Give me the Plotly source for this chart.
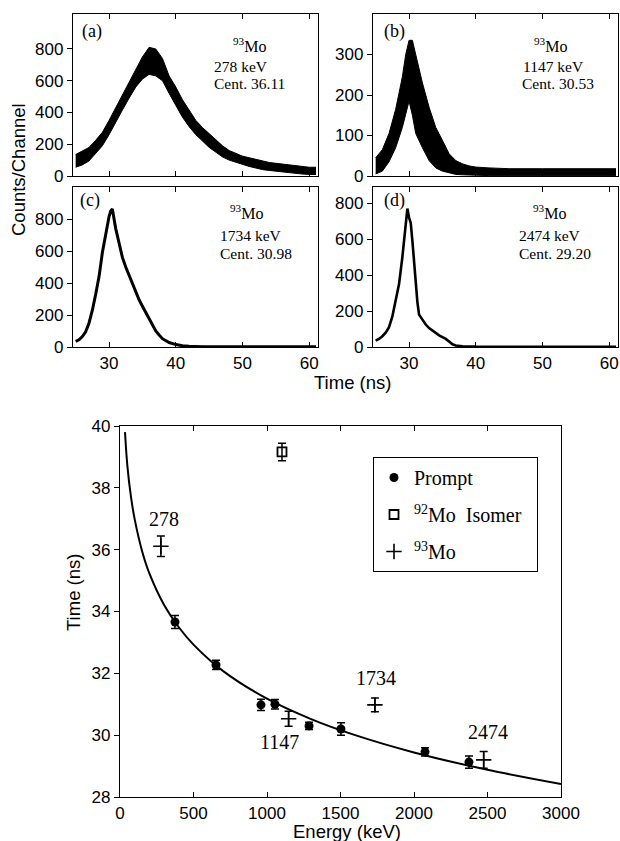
import plotly.graph_objects as go

# ---------------- data: time spectra (envelopes / traces) -------------
t_a = [25, 26, 27, 28, 29, 30, 31, 32, 33, 34, 35, 36, 37, 38, 39, 40, 41, 42, 43, 44,
       45, 46, 47, 48, 49, 50, 51, 52, 53, 54, 55, 56, 57, 58, 59, 60, 61]
a_lo = [55, 70, 95, 140, 190, 260, 340, 415, 490, 560, 610, 640, 630, 600, 520, 440, 370,
        310, 260, 220, 180, 150, 120, 100, 85, 70, 60, 50, 40, 35, 30, 25, 20, 15, 12, 10, 10]
a_hi = [135, 155, 180, 225, 275, 350, 430, 515, 600, 680, 750, 810, 800, 740, 630, 560, 480,
        415, 350, 305, 265, 225, 190, 160, 140, 125, 115, 105, 95, 85, 80, 75, 70, 65, 60, 55, 55]

t_b = [25, 26, 27, 28, 29, 29.5, 30, 30.5, 31, 32, 33, 34, 35, 36, 37, 38, 39, 40, 42, 45,
       50, 55, 61]
b_lo = [5, 12, 35, 70, 120, 150, 185, 150, 105, 70, 38, 20, 12, 8, 4, 3, 2, 2, 1, 1, 1, 1, 1]
b_hi = [45, 65, 105, 165, 245, 300, 335, 335, 300, 230, 170, 120, 88, 55, 38, 30, 25, 22, 20,
        18, 18, 18, 18]

t_c = [25, 25.5, 26, 26.5, 27, 27.5, 28, 28.5, 29, 29.5, 30, 30.25, 30.5, 30.75, 31, 31.5,
       32, 32.5, 33, 33.5, 34, 34.5, 35, 35.5, 36, 36.5, 37, 37.5, 38, 39, 40, 41, 42, 44,
       46, 50, 55, 61]
c_val = [35, 45, 65, 95, 150, 230, 330, 440, 590, 710, 815, 850, 862, 800, 740, 650, 560,
         500, 450, 390, 340, 295, 255, 215, 175, 135, 100, 75, 52, 28, 15, 8, 4, 2, 1, 1, 1, 1]

t_d = [25, 25.5, 26, 26.5, 27, 27.5, 28, 28.5, 29, 29.25, 29.5, 29.75, 30, 30.25, 30.5,
       30.75, 31, 31.25, 31.5, 32, 32.5, 33, 33.5, 34, 34.5, 35, 35.5, 36, 36.5, 37, 38, 40,
       45, 50, 55, 61]
d_val = [35, 45, 60, 80, 110, 170, 260, 350, 500, 600, 690, 770, 720, 690, 590, 460, 370,
         250, 180, 150, 125, 105, 90, 80, 65, 55, 45, 30, 15, 8, 4, 2, 1, 1, 1, 1]

panel_tags = ["(a)", "(b)", "(c)", "(d)"]
panel_energy = ["278 keV", "1147 keV", "1734 keV", "2474 keV"]
panel_cent = ["Cent. 36.11", "Cent. 30.53", "Cent. 30.98", "Cent. 29.20"]

# ---------------- data: time vs energy -------------
prompt_E = [374, 653, 959, 1054, 1286, 1503, 2075, 2374]
prompt_T = [33.66, 32.27, 30.98, 31.00, 30.30, 30.20, 29.46, 29.13]
prompt_err = [0.21, 0.15, 0.18, 0.15, 0.12, 0.20, 0.13, 0.20]

iso_E = [1102]
iso_T = [39.16]
iso_err = [0.28]

mo93_E = [278, 1147, 1734, 2474]
mo93_T = [36.11, 30.53, 30.98, 29.20]
mo93_err = [0.33, 0.24, 0.22, 0.27]
mo93_lbl = ["278", "1147", "1734", "2474"]
lbl_E = [299, 1088, 1741, 2503]
lbl_T = [36.99, 29.78, 31.85, 30.10]

fit_E = [34, 50, 75, 100, 150, 200, 300, 400, 500, 700, 1000, 1300, 1600, 2000, 2500, 3000]
fit_T = [39.80, 38.72, 37.70, 36.98, 35.96, 35.23, 34.21, 33.49, 32.93, 32.08, 31.18,
         30.52, 30.00, 29.44, 28.88, 28.42]

# ---------------- figure -------------
W, H = 620, 841
def px(x):
    return x / W
def py(y):
    return 1 - y / H

SANS = "Liberation Sans, Arial, Helvetica, sans-serif"
SERIF = "Liberation Serif, Times New Roman, serif"

fig = go.Figure()

fig.add_trace(go.Scatter(x=t_a, y=a_lo, mode="lines", line=dict(color="black", width=1),
                         xaxis="x", yaxis="y", showlegend=False, hoverinfo="skip"))
fig.add_trace(go.Scatter(x=t_a, y=a_hi, mode="lines", line=dict(color="black", width=1),
                         fill="tonexty", fillcolor="black",
                         xaxis="x", yaxis="y", showlegend=False, hoverinfo="skip"))
fig.add_trace(go.Scatter(x=t_b, y=b_lo, mode="lines", line=dict(color="black", width=1),
                         xaxis="x2", yaxis="y2", showlegend=False, hoverinfo="skip"))
fig.add_trace(go.Scatter(x=t_b, y=b_hi, mode="lines", line=dict(color="black", width=1),
                         fill="tonexty", fillcolor="black",
                         xaxis="x2", yaxis="y2", showlegend=False, hoverinfo="skip"))
fig.add_trace(go.Scatter(x=t_c, y=c_val, mode="lines", line=dict(color="black", width=3),
                         xaxis="x3", yaxis="y3", showlegend=False, hoverinfo="skip"))
fig.add_trace(go.Scatter(x=t_d, y=d_val, mode="lines", line=dict(color="black", width=2.6),
                         xaxis="x4", yaxis="y4", showlegend=False, hoverinfo="skip"))

fig.add_trace(go.Scatter(x=fit_E, y=fit_T, mode="lines", line=dict(color="black", width=2, shape="spline"),
                         xaxis="x5", yaxis="y5", showlegend=False, hoverinfo="skip"))
fig.add_trace(go.Scatter(x=prompt_E, y=prompt_T, mode="markers", name="Prompt",
                         marker=dict(symbol="circle", size=9, color="black"),
                         error_y=dict(type="data", array=prompt_err, thickness=1.5, width=4, color="black"),
                         xaxis="x5", yaxis="y5", legendgroup="g1"))
fig.add_trace(go.Scatter(x=iso_E, y=iso_T, mode="markers", name="<sup>92</sup>Mo\u00a0\u00a0Isomer\u00a0\u00a0",
                         marker=dict(symbol="square-open", size=9, color="black", line=dict(width=1.8)),
                         error_y=dict(type="data", array=iso_err, thickness=1.5, width=4, color="black"),
                         xaxis="x5", yaxis="y5", legendgroup="g2"))
fig.add_trace(go.Scatter(x=mo93_E, y=mo93_T, mode="markers", name="<sup>93</sup>Mo",
                         marker=dict(symbol="cross-thin", size=11, color="black", line=dict(width=1.6, color="black")),
                         error_y=dict(type="data", array=mo93_err, thickness=1.5, width=4, color="black"),
                         xaxis="x5", yaxis="y5", legendgroup="g3"))

tickfont = dict(family=SANS, size=17, color="black")
common_ax = dict(showline=True, linecolor="black", linewidth=1.3, showgrid=False, zeroline=False,
                 tickcolor="black", tickwidth=1.2, ticklen=5, tickfont=tickfont, automargin=False)

top_xr = [24.6, 61.3]
dom_ax = [px(73), px(318)]
dom_bx = [px(373), px(618)]
dom_ty = [py(176), py(14)]
dom_by = [py(347), py(187)]

def xax(domain, anchor, labels):
    return dict(domain=domain, anchor=anchor, range=top_xr, tickvals=[30, 40, 50, 60],
                ticks="inside", mirror="ticks", showticklabels=labels,
                ticklabeloverflow="allow", **common_ax)

def yax(domain, anchor, rng, tv):
    return dict(domain=domain, anchor=anchor, range=rng, tickvals=tv,
                ticks="outside", mirror=True, **common_ax)

fig.update_layout(
    width=W, height=H, margin=dict(l=0, r=0, t=0, b=0, autoexpand=False),
    paper_bgcolor="white", plot_bgcolor="white",
    xaxis=xax(dom_ax, "y", False),
    yaxis=yax(dom_ty, "x", [0, 1020], [0, 200, 400, 600, 800]),
    xaxis2=xax(dom_bx, "y2", False),
    yaxis2=yax(dom_ty, "x2", [0, 400], [0, 100, 200, 300]),
    xaxis3=xax(dom_ax, "y3", True),
    yaxis3=yax(dom_by, "x3", [0, 1000], [0, 200, 400, 600, 800]),
    xaxis4=xax(dom_bx, "y4", True),
    yaxis4=yax(dom_by, "x4", [0, 890], [0, 200, 400, 600, 800]),
    xaxis5=dict(domain=[px(120), px(561)], anchor="y5", range=[0, 3000],
                tickvals=[0, 500, 1000, 1500, 2000, 2500, 3000],
                ticks="inside", mirror="ticks", **common_ax),
    yaxis5=dict(domain=[py(797), py(426)], anchor="x5", range=[28, 40],
                tickvals=[28, 30, 32, 34, 36, 38, 40],
                ticks="outside", mirror=True, **common_ax),
    showlegend=True,
    legend=dict(x=px(373), y=py(457), xanchor="left", yanchor="top",
                bordercolor="black", borderwidth=1, bgcolor="white",
                font=dict(family=SERIF, size=20, color="black"),
                tracegroupgap=8, itemwidth=30),
)

ann = []
def a(text, x, y, size, family=SANS, angle=0, xanchor="center", yanchor="middle", xref="paper", yref="paper"):
    ann.append(dict(text=text, x=x, y=y, xref=xref, yref=yref, showarrow=False, textangle=angle,
                    xanchor=xanchor, yanchor=yanchor, font=dict(family=family, size=size, color="black")))

a("Counts/Channel", px(18), py(170), 18.5, angle=-90)
a("Time (ns)", px(352), py(382), 18.5)
a("Time (ns)", px(73), py(593), 18.5, angle=-90)
a("Energy (keV)", px(347), py(831), 18.5)

tag_pos = [(80, 31), (382, 31), (78, 201), (382, 201)]
mo_pos = [(249, 45), (550, 45), (246, 212), (549, 212)]
en_pos = [(212, 66), (521, 66), (218, 235), (517, 235)]
ce_pos = [(212, 84), (520, 84), (218, 253), (517, 253)]
for i in range(4):
    a(panel_tags[i], px(tag_pos[i][0]), py(tag_pos[i][1]), 18, SERIF, xanchor="left")
    a("<sup>93</sup>Mo", px(mo_pos[i][0]), py(mo_pos[i][1]), 16, SERIF)
    a(panel_energy[i], px(en_pos[i][0]), py(en_pos[i][1]), 15.5, SERIF, xanchor="left")
    a(panel_cent[i], px(ce_pos[i][0]), py(ce_pos[i][1]), 15.5, SERIF, xanchor="left")

for lab, e, t in zip(mo93_lbl, lbl_E, lbl_T):
    a(lab, e, t, 20, SERIF, xref="x5", yref="y5")

fig.update_layout(annotations=ann)
fig.write_html("out.html", config={"displayModeBar": False},
               post_script="document.body.style.margin='0';document.body.style.overflow='hidden';")
